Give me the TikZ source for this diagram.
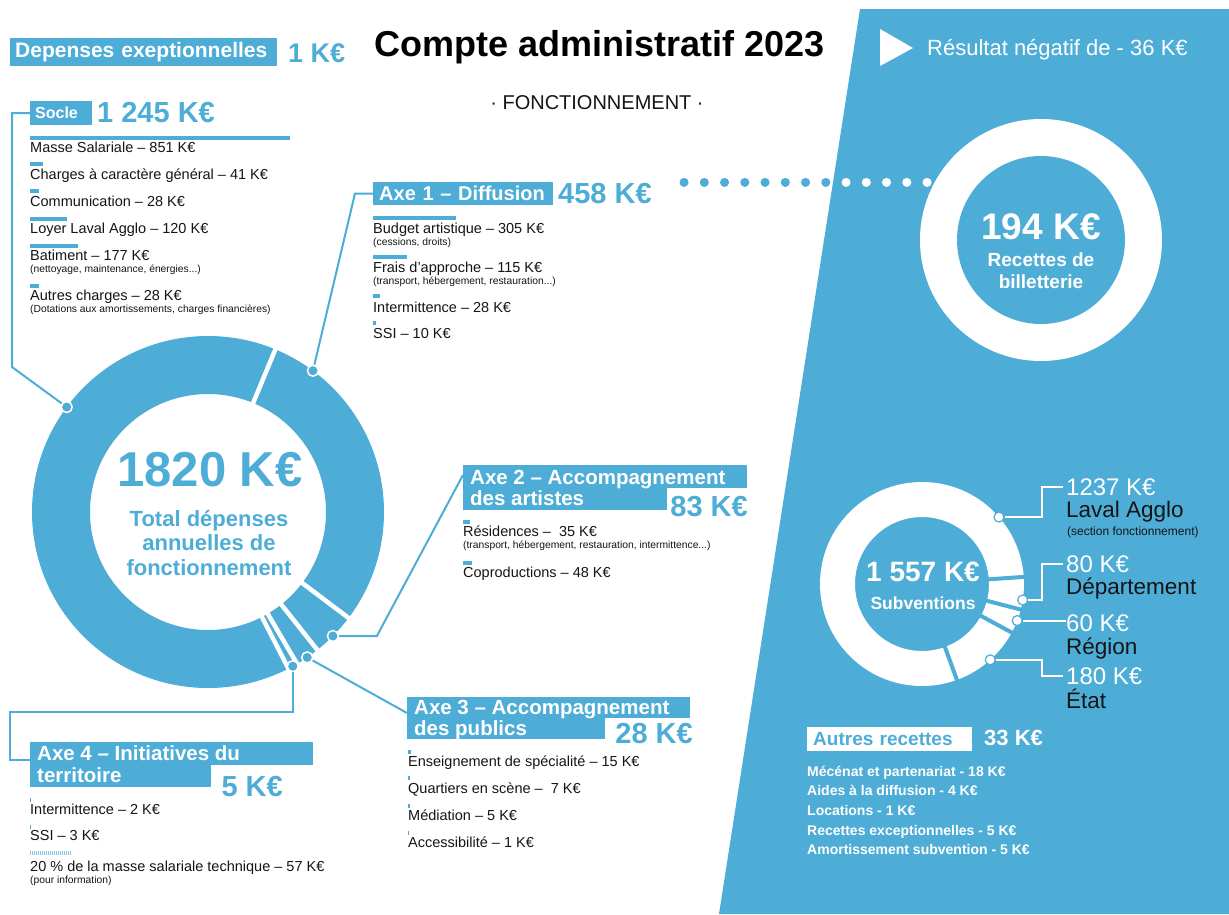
\documentclass[tikz,border=0pt]{standalone}
\usepackage{fontspec}
\setmainfont{Liberation Sans}
\usepackage{tikz}
\usetikzlibrary{positioning}
\definecolor{bleu}{HTML}{4DADD7}
\definecolor{encre}{HTML}{151515}
\tikzstyle{labelbox} = [anchor=west, fill=bleu, text=white, inner xsep=5pt, inner ysep=0pt, align=left, font=\fontsize{20}{22}\selectfont\bfseries]
\tikzstyle{boxline} = [anchor=west, inner sep=0pt, text=white, text height=15pt, text depth=4pt, font=\fontsize{20.5}{22}\selectfont\bfseries]
\tikzstyle{bigval} = [anchor=west, inner sep=0pt, text=bleu, font=\fontsize{29}{30}\selectfont\bfseries]
\tikzstyle{itemtext} = [anchor=west, inner sep=0pt, text=encre, text height=10pt, text depth=3pt, font=\fontsize{14.5}{16}\selectfont]
\tikzstyle{subtext} = [anchor=north west, inner sep=0pt, text=encre, text height=7.5pt, text depth=2pt, font=\fontsize{10.3}{12}\selectfont]
\tikzstyle{budgetbar} = [fill=bleu]
\tikzstyle{conn} = [draw=bleu, line width=2pt]
\tikzstyle{subconn} = [draw=white, line width=2pt]
\tikzstyle{pindot} = [circle, fill=bleu, draw=white, line width=1.5pt, inner sep=0pt, minimum size=11pt]
\tikzstyle{subpindot} = [circle, fill=white, draw=bleu, line width=1.2pt, inner sep=0pt, minimum size=10pt]
\tikzstyle{slicegap} = [white, line width=4.5pt]
\tikzstyle{subslicegap} = [bleu, line width=4pt]
\tikzstyle{dotrow} = [line width=9pt, line cap=round, dash pattern=on 0.1pt off 20.15pt]
\tikzstyle{amountval} = [anchor=west, inner sep=0pt, text=white, font=\fontsize{24}{26}\selectfont]
\tikzstyle{funder} = [anchor=west, inner sep=0pt, text=encre, font=\fontsize{22.5}{24}\selectfont]
\tikzstyle{recette} = [anchor=west, inner sep=0pt, text=white, text height=10pt, text depth=3pt, font=\fontsize{14}{16}\selectfont\bfseries]

\begin{document}
\begin{tikzpicture}[x=1pt, y=-1pt]
\useasboundingbox (0,0) rectangle (1229,914);
\fill[white] (0,0) rectangle (1229,914);
\fill[bleu] (860,9) -- (1229,9) -- (1229,914) -- (719,914) -- cycle;

% Header
\node (depbox) [labelbox, text width=257pt, minimum height=28pt, font=\fontsize{21}{22}\selectfont\bfseries] at (10,52) {Depenses exeptionnelles};
\node (depval) [bigval, font=\fontsize{27}{28}\selectfont\bfseries] at (288,53) {1 K€};
\node (titre) [anchor=west, inner sep=0pt, text=black, font=\fontsize{36}{38}\selectfont\bfseries] at (374,47) {Compte administratif 2023};
\node (soustitre) [inner sep=0pt, text=encre, font=\fontsize{20}{22}\selectfont] at (597,103) {· FONCTIONNEMENT ·};

% Socle
\node (soclebox) [labelbox, text width=52pt, minimum height=24pt, font=\fontsize{16}{18}\selectfont\bfseries] at (30,113) {Socle};
\node (socleval) [bigval] at (97,113) {1 245 K€};
\fill[budgetbar] (30,136) rectangle ++(260,4);
\node (masse) [itemtext] at (30,148.5) {Masse Salariale – 851 K€};
\fill[budgetbar] (30,162) rectangle ++(13,4);
\node (charges) [itemtext] at (30,175.5) {Charges à caractère général – 41 K€};
\fill[budgetbar] (30,189) rectangle ++(8.5,4);
\node (comm) [itemtext] at (30,202.5) {Communication – 28 K€};
\fill[budgetbar] (30,217) rectangle ++(37,4);
\node (loyer) [itemtext] at (30,229.5) {Loyer Laval Agglo – 120 K€};
\fill[budgetbar] (30,244) rectangle ++(48,4);
\node (batiment) [itemtext] at (30,256.5) {Batiment – 177 K€};
\node (batimentsub) [below=1.5pt of batiment.south west, subtext] {(nettoyage, maintenance, énergies...)};
\fill[budgetbar] (30,284) rectangle ++(8.5,4);
\node (autres) [itemtext] at (30,296.5) {Autres charges – 28 K€};
\node (autressub) [below=1.5pt of autres.south west, subtext] {(Dotations aux amortissements, charges financières)};

% Axe 1
\node (axeunbox) [labelbox, inner xsep=6pt, text width=168pt, minimum height=23pt] at (373,193.5) {Axe 1 – Diffusion};
\node (axeunval) [bigval] at (558,194) {458 K€};
\fill[budgetbar] (373,216) rectangle ++(83,4);
\node (budget) [itemtext] at (373,229.5) {Budget artistique – 305 K€};
\node (budgetsub) [below=1.5pt of budget.south west, subtext] {(cessions, droits)};
\fill[budgetbar] (373,255) rectangle ++(34,4);
\node (frais) [itemtext] at (373,268.5) {Frais d’approche – 115 K€};
\node (fraissub) [below=1.5pt of frais.south west, subtext] {(transport, hébergement, restauration...)};
\fill[budgetbar] (373,294) rectangle ++(7,4);
\node (intermit) [itemtext] at (373,308.5) {Intermittence – 28 K€};
\fill[budgetbar] (373,321) rectangle ++(2.5,4);
\node (ssi) [itemtext] at (373,334.5) {SSI – 10 K€};

% Axe 2
\fill[bleu] (463,465) rectangle (747,488);
\fill[bleu] (463,465) rectangle (667,510);
\node (axedeuxa) [boxline] at (470,479) {Axe 2 – Accompagnement};
\node (axedeuxb) [boxline] at (470,500) {des artistes};
\node (axedeuxval) [bigval, anchor=east] at (748,507) {83 K€};
\fill[budgetbar] (463,520) rectangle ++(7,4);
\node (resid) [itemtext] at (463,532.5) {Résidences –\ \ 35 K€};
\node (residsub) [below=1.5pt of resid.south west, subtext] {(transport, hébergement, restauration, intermittence...)};
\fill[budgetbar] (463,561) rectangle ++(9,4);
\node (copro) [itemtext] at (463,573.5) {Coproductions – 48 K€};

% Axe 3
\fill[bleu] (407,697) rectangle (690,718);
\fill[bleu] (407,697) rectangle (605,739);
\node (axetroisa) [boxline] at (414,709) {Axe 3 – Accompagnement};
\node (axetroisb) [boxline] at (414,730) {des publics};
\node (axetroisval) [bigval, anchor=east] at (693,734) {28 K€};
\fill[budgetbar] (408,750) rectangle ++(3,4);
\node (enseign) [itemtext] at (408,762.5) {Enseignement de spécialité – 15 K€};
\fill[budgetbar] (408,776) rectangle ++(2,4);
\node (quartiers) [itemtext] at (408,789.5) {Quartiers en scène –\ \ 7 K€};
\fill[budgetbar] (408,804) rectangle ++(1.5,4);
\node (mediation) [itemtext] at (408,816.5) {Médiation – 5 K€};
\fill[budgetbar] (408,831) rectangle ++(1,4);
\node (access) [itemtext] at (408,843.5) {Accessibilité – 1 K€};

% Axe 4
\fill[bleu] (30,742) rectangle (313,765);
\fill[bleu] (30,742) rectangle (211,787);
\node (axequatrea) [boxline] at (37,755) {Axe 4 – Initiatives du};
\node (axequatreb) [boxline] at (37,777) {territoire};
\node (axequatreval) [bigval, anchor=east] at (283,787) {5 K€};
\fill[budgetbar] (30,798) rectangle ++(1,4);
\node (intermitb) [itemtext] at (30,810.5) {Intermittence – 2 K€};
\fill[budgetbar] (30,825) rectangle ++(1,4);
\node (ssib) [itemtext] at (30,836.5) {SSI – 3 K€};
\draw[bleu!70, line width=4pt, dash pattern=on 1pt off 1pt] (30,853) -- (71,853);
\node (technique) [itemtext] at (30,867.5) {20 \% de la masse salariale technique – 57 K€};
\node (techniquesub) [below=1.5pt of technique.south west, subtext] {(pour information)};

% Total donut
\coordinate (bigc) at (208,512);
\fill[bleu, even odd rule] (bigc) circle (176) (bigc) circle (118);
\draw[slicegap] (bigc) ++(-67.5:114) -- ++(-67.5:66);
\draw[slicegap] (bigc) ++(37:114) -- ++(37:66);
\draw[slicegap] (bigc) ++(51.6:114) -- ++(51.6:66);
\draw[slicegap] (bigc) ++(59.6:114) -- ++(59.6:66);
\draw[slicegap] (bigc) ++(62.8:114) -- ++(62.8:66);
\node (total) [inner sep=0pt, text=bleu, font=\fontsize{49}{50}\selectfont\bfseries] at (210,470) {1820 K€};
\node (totallib) [inner sep=0pt, text=bleu, align=center, font=\fontsize{22}{24.5}\selectfont\bfseries] at (209,543) {Total dépenses\\annuelles de\\fonctionnement};

\path (bigc) ++(216.6:176) node (dsocle) [pindot] {};
\path (bigc) ++(-53.4:176) node (daxeun) [pindot] {};
\path (bigc) ++(44.8:176) node (daxedeux) [pindot] {};
\path (bigc) ++(55.7:176) node (daxetrois) [pindot] {};
\path (bigc) ++(61.2:176) node (daxequatre) [pindot] {};

% Connectors
\coordinate (socleelbow) at (12,367);
\coordinate (axequatreelbow) at (10,712);
\draw[conn] (dsocle) -- (socleelbow) |- (soclebox.west);
\draw[conn] (daxeun) -- ([xshift=-18pt]axeunbox.west) -- (axeunbox.west);
\draw[conn] (daxedeux) -- ++(44,0) -- ([xshift=-7pt,yshift=4pt]axedeuxa.west);
\draw[conn] (daxetrois) -- ([xshift=-7pt,yshift=-4pt]axetroisa.west);
\draw[conn] (daxequatre) |- (axequatreelbow) |- ([xshift=-7pt,yshift=-5pt]axequatrea.west);

% Recettes
\fill[white] (880,29) -- (880,66) -- (913,48) -- cycle;
\node (resultat) [anchor=west, inner sep=0pt, text=white, font=\fontsize{22}{24}\selectfont] at (927,50) {Résultat négatif de - 36 K€};

\node (billet) [circle, fill=white, minimum size=242pt, inner sep=0pt] at (1041,240) {};
\node (billetin) [circle, fill=bleu, minimum size=168pt, inner sep=0pt] at (billet) {};
\node (billetval) [inner sep=0pt, text=white, font=\fontsize{37}{38}\selectfont\bfseries] at (1041,227) {194 K€};
\node (billetlib) [inner sep=0pt, text=white, align=center, font=\fontsize{19}{22}\selectfont\bfseries] at (1041,271) {Recettes de\\billetterie};

\coordinate (dotstart) at (684,182);
\coordinate (dotend) at (928,182);
\draw[dotrow, bleu] (dotstart) -- (dotend);
\begin{scope}
\clip (860,9) -- (1229,9) -- (1229,914) -- (719,914) -- cycle;
\draw[dotrow, white] (dotstart) -- (dotend);
\end{scope}

% Subventions donut
\coordinate (subc) at (922,584);
\fill[white, even odd rule] (subc) circle (102) (subc) circle (67);
\draw[subslicegap] (subc) ++(-4:63) -- ++(-4:42);
\draw[subslicegap] (subc) ++(14.5:63) -- ++(14.5:42);
\draw[subslicegap] (subc) ++(28.4:63) -- ++(28.4:42);
\draw[subslicegap] (subc) ++(70:63) -- ++(70:42);
\node (subval) [inner sep=0pt, text=white, font=\fontsize{28}{30}\selectfont\bfseries] at (923,572) {1 557 K€};
\node (sublib) [inner sep=0pt, text=white, font=\fontsize{17.5}{19}\selectfont\bfseries] at (923,603) {Subventions};

\node (lavalval) [amountval] at (1066,487) {1237 K€};
\node (lavallib) [funder] at (1066,512) {Laval Agglo};
\node (lavalnote) [anchor=west, inner sep=0pt, text=encre, font=\fontsize{12}{14}\selectfont] at (1067,532) {(section fonctionnement)};
\node (deptval) [amountval] at (1066,564) {80 K€};
\node (deptlib) [funder] at (1066,589) {Département};
\node (regionval) [amountval] at (1066,623) {60 K€};
\node (regionlib) [funder] at (1066,649) {Région};
\node (etatval) [amountval] at (1066,676) {180 K€};
\node (etatlib) [funder] at (1066,699) {État};

\path (subc) ++(-41:102) node (dlaval) [subpindot] {};
\path (subc) ++(9:102) node (ddept) [subpindot] {};
\path (subc) ++(21:102) node (dregion) [subpindot] {};
\path (subc) ++(48:102) node (detat) [subpindot] {};
\coordinate (subelbow) at (1042,584);
\draw[subconn] (dlaval) -- (dlaval -| subelbow) |- ([xshift=-3pt]lavalval.west);
\draw[subconn] (ddept) -- (ddept -| subelbow) |- ([xshift=-3pt]deptval.west);
\draw[subconn] (dregion) -- (dregion -| regionval.west);
\draw[subconn] (detat) -- (detat -| subelbow) |- ([xshift=-3pt]etatval.west);

% Autres recettes
\node (autresbox) [labelbox, fill=white, text=bleu, inner xsep=6pt, text width=153pt, minimum height=24pt, font=\fontsize{19}{21}\selectfont\bfseries] at (807,739) {Autres recettes};
\node (autresval) [anchor=west, inner sep=0pt, text=white, font=\fontsize{22}{24}\selectfont\bfseries] at (984,738) {33 K€};
\node (mecenat) [recette] at (807,772.5) {Mécénat et partenariat - 18 K€};
\node (aides) [recette, below=6.3pt of mecenat.south west, anchor=north west] {Aides à la diffusion - 4 K€};
\node (locations) [recette, below=6.3pt of aides.south west, anchor=north west] {Locations - 1 K€};
\node (exception) [recette, below=6.3pt of locations.south west, anchor=north west] {Recettes exceptionnelles - 5 K€};
\node (amort) [recette, below=6.3pt of exception.south west, anchor=north west] {Amortissement subvention - 5 K€};
\end{tikzpicture}
\end{document}
